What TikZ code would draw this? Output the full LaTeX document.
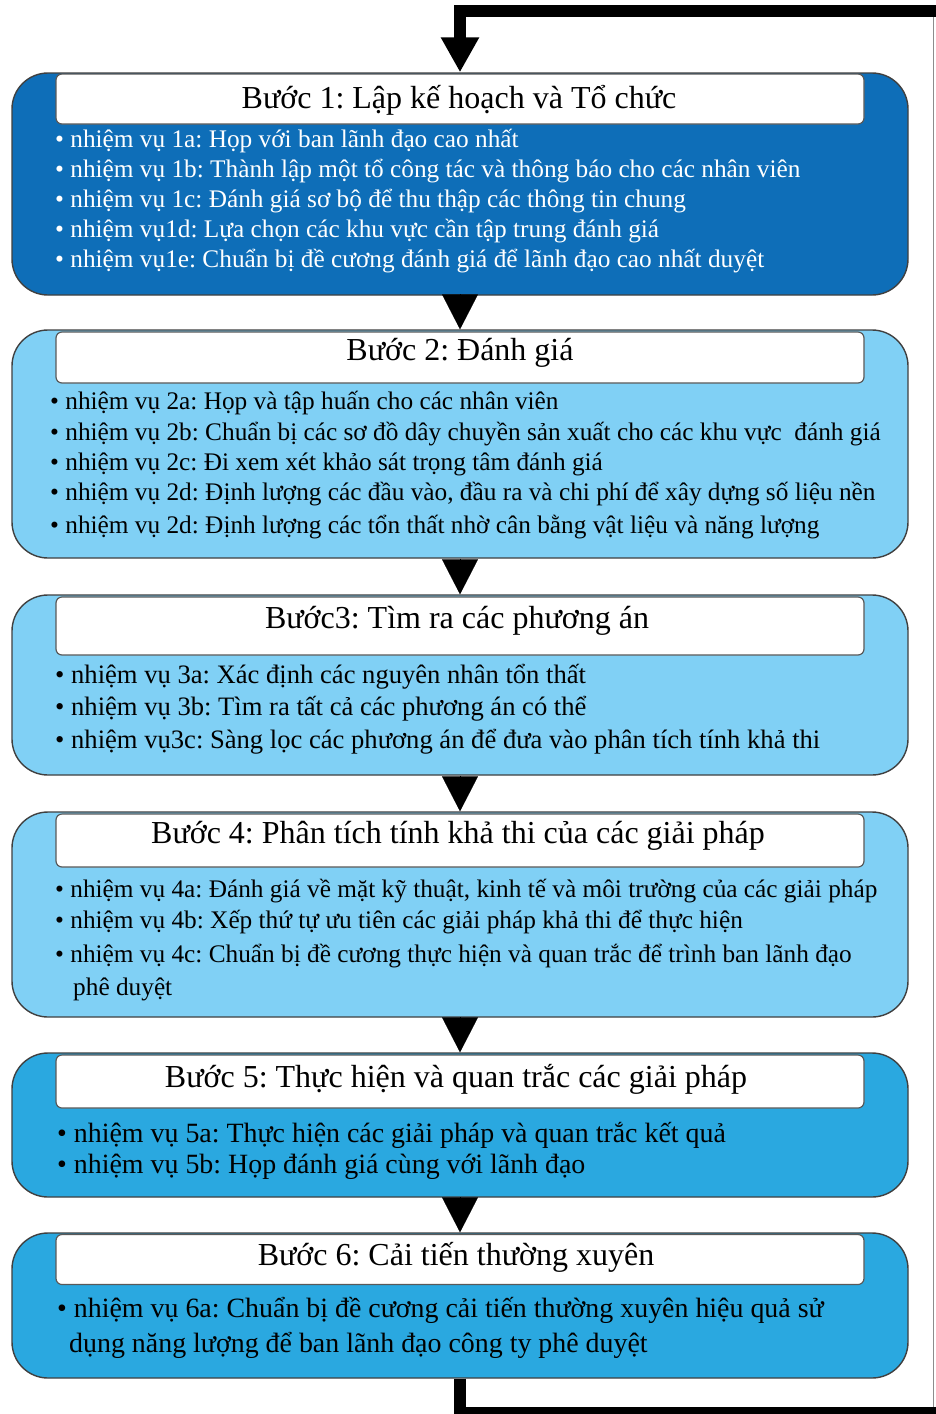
\documentclass[tikz,border=0pt]{standalone}
\usepackage{fontspec}
\setmainfont{Liberation Serif}
\usetikzlibrary{arrows.meta}
\definecolor{dblue}{HTML}{0E6EB8}
\definecolor{lblue}{HTML}{80D0F5}
\definecolor{mblue}{HTML}{2AA8E0}
\frenchspacing
\begin{document}
\frenchspacing
\begin{tikzpicture}[x=1pt,y=-1pt,
  stepbox/.style={draw=black!75, line width=1.4pt, rounded corners=36pt, minimum width=896pt, inner sep=0pt},
  titlebox/.style={draw=black!65, fill=white, line width=1.2pt, rounded corners=6pt, minimum width=808pt, inner sep=0pt},
  titletext/.style={anchor=base, inner sep=0pt, font=\fontsize{32}{38}\selectfont},
  task/.style={anchor=base west, inner sep=0pt, font=\fontsize{25.3}{30}\selectfont},
  taskbig/.style={anchor=base west, inner sep=0pt, font=\fontsize{26.6}{30}\selectfont},
  taskhuge/.style={anchor=base west, inner sep=0pt, font=\fontsize{27.9}{30}\selectfont},
  flow/.style={-{Triangle[width=36pt,length=35pt]}, line width=0.1pt},
  loopline/.style={line width=12pt, line join=miter, -{Triangle[width=36pt,length=35pt]}}
]
\useasboundingbox[fill=white] (0,0) rectangle (936,1414);

% Step 1
\node[stepbox, fill=dblue, minimum height=222pt] (b1) at (460,184) {};
\node[titlebox, minimum height=50pt] (t1) at (460,99) {};
\node[titletext] (h1) at (459,108) {Bước 1: Lập kế hoạch và Tổ chức};
\begin{scope}[every node/.style={task, text=white}]
\node (l11) at (55,147) {• nhiệm vụ 1a: Họp với ban lãnh đạo cao nhất};
\node (l12) at (55,177) {• nhiệm vụ 1b: Thành lập một tổ công tác và thông báo cho các nhân viên};
\node (l13) at (55,207) {• nhiệm vụ 1c: Đánh giá sơ bộ để thu thập các thông tin chung};
\node (l14) at (55,237) {• nhiệm vụ1d: Lựa chọn các khu vực cần tập trung đánh giá};
\node (l15) at (55,267) {• nhiệm vụ1e: Chuẩn bị đề cương đánh giá để lãnh đạo cao nhất duyệt};
\end{scope}

% Step 2
\node[stepbox, fill=lblue, minimum height=228pt] (b2) at (460,444) {};
\node[titlebox, minimum height=51pt] (t2) at (460,357.5) {};
\node[titletext] (h2) at (460,360) {Bước 2: Đánh giá};
\node[task] (l21) at (50,409) {• nhiệm vụ 2a: Họp và tập huấn cho các nhân viên};
\node[task] (l22) at (50,440) {• nhiệm vụ 2b: Chuẩn bị các sơ đồ dây chuyền sản xuất cho các khu vực\ \ đánh giá};
\node[task] (l23) at (50,470) {• nhiệm vụ 2c: Đi xem xét khảo sát trọng tâm đánh giá};
\node[task] (l24) at (50,500) {• nhiệm vụ 2d: Định lượng các đầu vào, đầu ra và chi phí để xây dựng số liệu nền};
\node[task] (l25) at (50,533) {• nhiệm vụ 2d: Định lượng các tổn thất nhờ cân bằng vật liệu và năng lượng};

% Step 3
\node[stepbox, fill=lblue, minimum height=180pt] (b3) at (460,685) {};
\node[titlebox, minimum height=58pt] (t3) at (460,626) {};
\node[titletext] (h3) at (457,628) {Bước3: Tìm ra các phương án};
\node[taskbig] (l31) at (55,683) {• nhiệm vụ 3a: Xác định các nguyên nhân tổn thất};
\node[taskbig] (l32) at (55,715) {• nhiệm vụ 3b: Tìm ra tất cả các phương án có thể};
\node[taskbig] (l33) at (55,748) {• nhiệm vụ3c: Sàng lọc các phương án để đưa vào phân tích tính khả thi};

% Step 4
\node[stepbox, fill=lblue, minimum height=205pt] (b4) at (460,914.5) {};
\node[titlebox, minimum height=53pt] (t4) at (460,840.5) {};
\node[titletext] (h4) at (458,843) {Bước 4: Phân tích tính khả thi của các giải pháp};
\node[task] (l41) at (55,897) {• nhiệm vụ 4a: Đánh giá về mặt kỹ thuật, kinh tế và môi trường của các giải pháp};
\node[task] (l42) at (55,928) {• nhiệm vụ 4b: Xếp thứ tự ưu tiên các giải pháp khả thi để thực hiện};
\node[task] (l43) at (55,962) {• nhiệm vụ 4c: Chuẩn bị đề cương thực hiện và quan trắc để trình ban lãnh đạo};
\node[task] (l44) at (73,995) {phê duyệt};

% Step 5
\node[stepbox, fill=mblue, minimum height=144pt] (b5) at (460,1125) {};
\node[titlebox, minimum height=53pt] (t5) at (460,1081.5) {};
\node[titletext] (h5) at (456,1087) {Bước 5: Thực hiện và quan trắc các giải pháp};
\node[taskhuge] (l51) at (57,1142) {• nhiệm vụ 5a: Thực hiện các giải pháp và quan trắc kết quả};
\node[taskhuge] (l52) at (57,1173) {• nhiệm vụ 5b: Họp đánh giá cùng với lãnh đạo};

% Step 6
\node[stepbox, fill=mblue, minimum height=145pt] (b6) at (460,1305.5) {};
\node[titlebox, minimum height=50pt] (t6) at (460,1259.5) {};
\node[titletext] (h6) at (456,1265) {Bước 6: Cải tiến thường xuyên};
\node[taskhuge] (l61) at (57,1317) {• nhiệm vụ 6a: Chuẩn bị đề cương cải tiến thường xuyên hiệu quả sử};
\node[taskhuge] (l62) at (69,1352) {dụng năng lượng để ban lãnh đạo công ty phê duyệt};

% connectors between steps
\draw[flow] (b1.south) -- (b2.north);
\draw[flow] (b2.south) -- (b3.north);
\draw[flow] (b3.south) -- (b4.north);
\draw[flow] (b4.south) -- (b5.north);
\draw[flow] (b5.south) -- (b6.north);

% feedback loop
\coordinate (lb) at (460,1413);
\coordinate (rb) at (960,1413);
\coordinate (rt) at (960,11);
\coordinate (lt) at (460,11);
\draw[loopline] (b6.south) -- (lb) -- (rb) -- (rt) -- (lt) -- (b1.north);
\coordinate (gt) at (933,17);
\coordinate (gb) at (933,1407);
\draw[black!45, line width=0.9pt] (gt) -- (gb);
\end{tikzpicture}
\end{document}
